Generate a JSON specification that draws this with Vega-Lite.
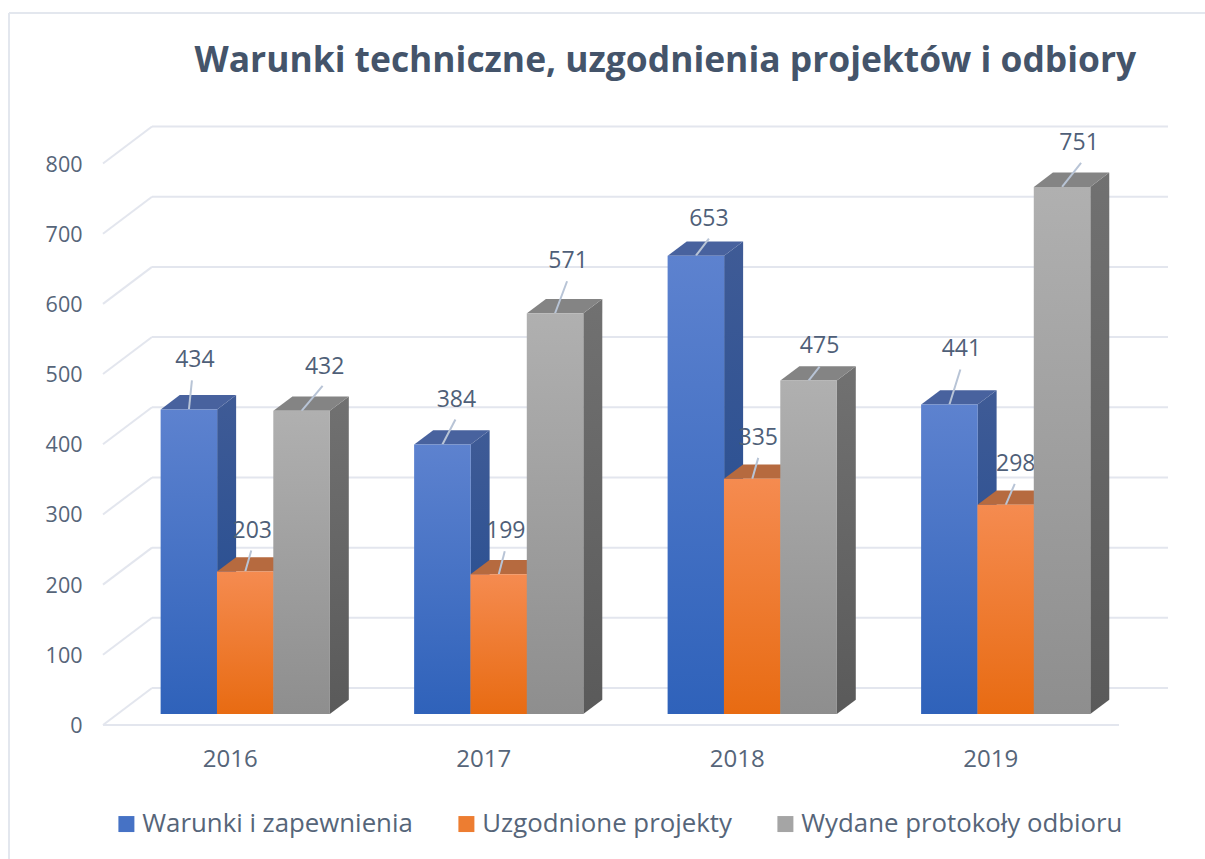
{"$schema":"https://vega.github.io/schema/vega-lite/v6.json","width":1014,"height":561.5,"autosize":{"type":"none"},"padding":{"left":118.5,"top":152.5,"right":72.5,"bottom":145},"background":"#ffffff","view":{"stroke":null},
"title":{"text":"Warunki techniczne, uzgodnienia projektów i odbiory","anchor":"start","frame":"group","dx":76,"offset":0,"dy":67,"fontSize":35.4,"font":"Open Sans","fontWeight":"bold","color":"#44546A"},
"datasets":{"bars":[
{"year":"2016","series":"Warunki i zapewnienia","value":434},{"year":"2016","series":"Uzgodnione projekty","value":203},{"year":"2016","series":"Wydane protokoły odbioru","value":432},
{"year":"2017","series":"Warunki i zapewnienia","value":384},{"year":"2017","series":"Uzgodnione projekty","value":199},{"year":"2017","series":"Wydane protokoły odbioru","value":571},
{"year":"2018","series":"Warunki i zapewnienia","value":653},{"year":"2018","series":"Uzgodnione projekty","value":335},{"year":"2018","series":"Wydane protokoły odbioru","value":475},
{"year":"2019","series":"Warunki i zapewnienia","value":441},{"year":"2019","series":"Uzgodnione projekty","value":298},{"year":"2019","series":"Wydane protokoły odbioru","value":751}],
"ticks":[{"tick":0},{"tick":100},{"tick":200},{"tick":300},{"tick":400},{"tick":500},{"tick":600},{"tick":700},{"tick":800}]},
"data":{"name":"bars"},
"encoding":{
"x":{"field":"year","type":"nominal","scale":{"paddingInner":0.3333,"paddingOuter":0.1667},"axis":{"title":null,"domain":false,"ticks":false,"grid":false,"labelAngle":0,"labelOffset":-15,"labelPadding":33,"labelFontSize":24,"labelFont":"Open Sans","labelColor":"#566579"}},
"xOffset":{"field":"series","type":"nominal","sort":["Warunki i zapewnienia","Uzgodnione projekty","Wydane protokoły odbioru"],"scale":{"padding":0}},
"y":{"field":"value","type":"quantitative","stack":null,"title":null,"scale":{"domain":[0,800],"nice":false},"axis":{"title":null,"domain":false,"ticks":false,"grid":false,"values":[0,100,200,300,400,500,600,700,800],"labelOffset":12.5,"labelPadding":36.5,"labelFontSize":21.5,"labelFont":"Open Sans","labelColor":"#566579"}}
},
"layer":[
{"data":{"values":[{"tick":800}]},"mark":{"type":"rule","color":"#E3E7EE","strokeWidth":2,"yOffset":-139.5,"xOffset":-109.5,"x2Offset":100},"encoding":{"x":{"value":0},"x2":{"value":1016},"xOffset":null,"y":{"field":"tick","type":"quantitative","title":null}}},
{"data":{"values":[{"edge":"left"}]},"mark":{"type":"rule","color":"#E3E7EE","strokeWidth":2,"xOffset":-109.5,"x2Offset":-109.5,"yOffset":155,"y2Offset":-139.5},"encoding":{"x":{"value":0},"x2":{"value":0},"xOffset":null,"y":{"value":561.5},"y2":{"value":0}}},
{"data":{"name":"ticks"},"mark":{"type":"rule","color":"#E3E6EE","strokeWidth":2,"yOffset":-26,"xOffset":33.5,"x2Offset":33.5},"encoding":{"x":{"value":0},"x2":{"value":1016},"xOffset":null,"y":{"field":"tick","type":"quantitative","title":null}}},
{"data":{"name":"ticks"},"mark":{"type":"rule","color":"#E3E6EE","strokeWidth":2,"yOffset":11,"y2Offset":-26,"xOffset":-15.5,"x2Offset":33.5},"encoding":{"x":{"value":0},"x2":{"value":0},"xOffset":null,"y":{"field":"tick","type":"quantitative","title":null},"y2":{"field":"tick"}}},
{"data":{"values":[{"tick":0}]},"mark":{"type":"rule","color":"#E3E6EE","strokeWidth":2,"yOffset":11,"xOffset":-15.5,"x2Offset":-15.5},"encoding":{"x":{"value":0},"x2":{"value":1016},"xOffset":null,"y":{"field":"tick","type":"quantitative","title":null}}},
{"mark":{"type":"point","filled":true,"opacity":1,"strokeWidth":0,"size":4,"shape":{"expr":"'M28.2 0 L47.2 -14.3 L47.2 '+(height-scale('y',datum.value)-14.3)+' L28.2 '+(height-scale('y',datum.value))+' Z'"}},"encoding":{"fill":{"condition":[
{"test":"datum.series==='Warunki i zapewnienia'","value":{"gradient":"linear","x1":0,"y1":0,"x2":0,"y2":1,"stops":[{"offset":0,"color":"#3F5B96"},{"offset":1,"color":"#1F4A90"}]}},
{"test":"datum.series==='Uzgodnione projekty'","value":{"gradient":"linear","x1":0,"y1":0,"x2":0,"y2":1,"stops":[{"offset":0,"color":"#B0643A"},{"offset":1,"color":"#A04F10"}]}}],
"value":{"gradient":"linear","x1":0,"y1":0,"x2":0,"y2":1,"stops":[{"offset":0,"color":"#717171"},{"offset":1,"color":"#5A5A5A"}]}}}},
{"mark":{"type":"point","filled":true,"opacity":1,"strokeWidth":0,"size":4,"shape":"M-28.2 0 L28.2 0 L47.2 -14.3 L-9.2 -14.3 Z"},"encoding":{"fill":{"condition":[{"test":"datum.series==='Warunki i zapewnienia'","value":"#48629E"},{"test":"datum.series==='Uzgodnione projekty'","value":"#B66A3F"}],"value":"#848484"}}},
{"mark":{"type":"text","font":"Open Sans","fontSize":23,"color":"#4F5F78","baseline":"middle","dx":{"expr":"{'434':6,'203':7,'432':23,'384':14,'199':7,'571':13,'653':13,'335':6,'475':11,'441':12,'298':10,'751':17}[datum.value]"},"dy":{"expr":"{'434':-49,'203':-41,'432':-44,'384':-44,'199':-43,'571':-52,'653':-37,'335':-41,'475':-35,'441':-55,'298':-41,'751':-44}[datum.value]"}},"encoding":{"text":{"field":"value","type":"quantitative"}}},
{"mark":{"type":"point","filled":false,"opacity":1,"size":4,"stroke":"#B8C4D6","strokeWidth":2},"encoding":{"shape":{"field":"value","type":"nominal","legend":null,"scale":{"domain":[434,203,432,384,199,571,653,335,475,441,298,751],"range":["M0 0 L3 -29","M0 0 L6 -21","M0 0 L21 -25","M0 0 L13 -25","M0 0 L6 -23","M0 0 L12 -32","M0 0 L13 -17","M0 0 L6 -21","M0 0 L11 -14","M0 0 L11 -35","M0 0 L9 -21","M0 0 L19 -24"]}}}},
{"mark":{"type":"bar","width":56.6},"encoding":{"fill":{"condition":[
{"test":"datum.series==='Warunki i zapewnienia'","value":{"gradient":"linear","x1":0,"y1":0,"x2":0,"y2":1,"stops":[{"offset":0,"color":"#5D82CF"},{"offset":1,"color":"#2F62BA"}]}},
{"test":"datum.series==='Uzgodnione projekty'","value":{"gradient":"linear","x1":0,"y1":0,"x2":0,"y2":1,"stops":[{"offset":0,"color":"#F58B50"},{"offset":1,"color":"#E86B12"}]}}],
"value":{"gradient":"linear","x1":0,"y1":0,"x2":0,"y2":1,"stops":[{"offset":0,"color":"#B0B0B0"},{"offset":1,"color":"#8E8E8E"}]}}}},
{"mark":{"type":"point","filled":true,"size":1,"opacity":0},"encoding":{"color":{"field":"series","type":"nominal","scale":{"domain":["Warunki i zapewnienia","Uzgodnione projekty","Wydane protokoły odbioru"],"range":["#4672C5","#ED7D31","#A5A5A5"]},
"legend":{"title":null,"orient":"none","legendX":-5,"legendY":658.5,"direction":"horizontal","columns":3,"gridAlign":"each","symbolType":"square","symbolSize":256,"symbolStrokeWidth":0,"symbolOpacity":1,"labelFont":"Open Sans","labelFontSize":25.8,"labelColor":"#566579","labelOffset":3,"columnPadding":40,"labelLimit":400}}}}
]}
